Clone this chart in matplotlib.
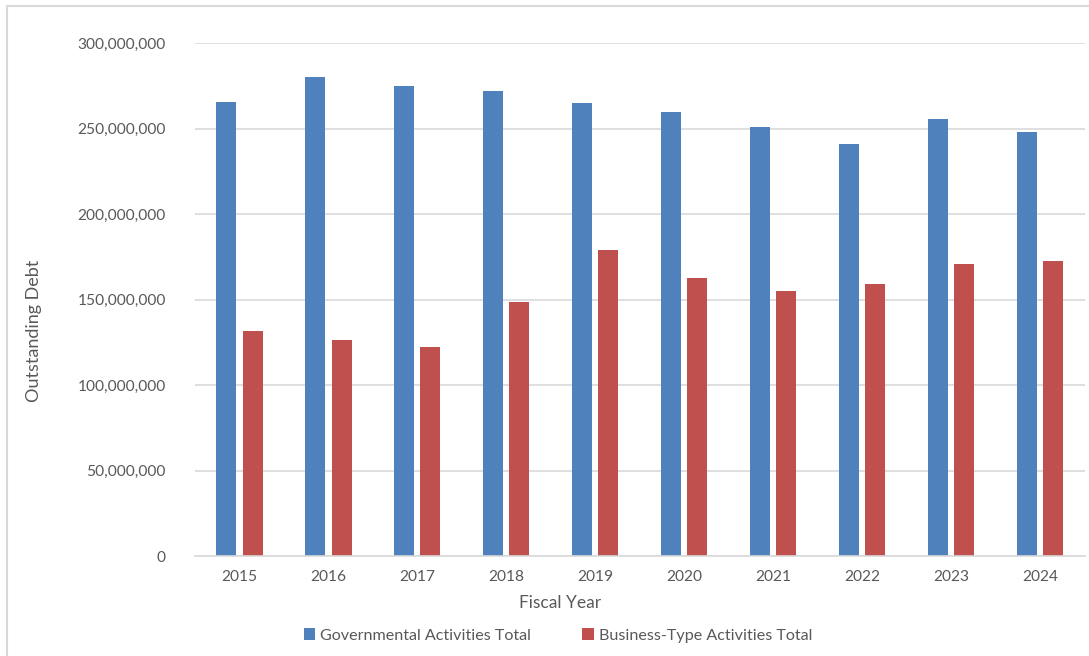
import matplotlib
matplotlib.use("Agg")
import matplotlib.pyplot as plt
import matplotlib.ticker as mticker
from matplotlib.patches import Rectangle
import numpy as np

years = ["2015", "2016", "2017", "2018", "2019", "2020", "2021", "2022", "2023", "2024"]
governmental = [265.6e6, 280.4e6, 275.1e6, 272.0e6, 265.0e6, 259.8e6, 250.8e6, 241.0e6, 255.8e6, 248.0e6]
business_type = [131.5e6, 126.6e6, 122.1e6, 148.7e6, 178.7e6, 162.3e6, 154.7e6, 158.8e6, 170.5e6, 172.6e6]

plt.rcParams["font.family"] = ["Lato", "DejaVu Sans"]
text_color = "#595959"
grid_color = "#D9D9D9"

fig = plt.figure(figsize=(10.89, 6.56), dpi=100)
ax = fig.add_axes([0.179, 0.1524, 0.817, 0.782])

x = np.arange(len(years))
width = 0.225
gap = 0.035
ax.bar(x - width / 2 - gap, governmental, width, color="#4F81BD",
       label="Governmental Activities Total")
ax.bar(x + width / 2 + gap, business_type, width, color="#C0504D",
       label="Business-Type Activities Total")

ax.set_xlim(-0.5, len(years) - 0.5)
ax.set_ylim(0, 300e6)
ax.yaxis.set_major_locator(mticker.MultipleLocator(50e6))
ax.yaxis.set_major_formatter(mticker.FuncFormatter(lambda v, _: f"{v:,.0f}"))
ax.set_xticks(x)
ax.set_xticklabels(years)

ax.grid(axis="y", color=grid_color, linewidth=1.2)
ax.set_axisbelow(True)
for side in ("top", "right", "left"):
    ax.spines[side].set_visible(False)
ax.spines["bottom"].set_color(grid_color)
ax.spines["bottom"].set_linewidth(1.2)
ax.tick_params(length=0, colors=text_color, labelsize=11.2)
ax.tick_params(axis="y", pad=21)
ax.tick_params(axis="x", pad=10)

ax.set_xlabel("Fiscal Year", color=text_color, fontsize=12.5, labelpad=9)
ax.xaxis.set_label_coords(0.41, -0.075)
ax.set_ylabel("Outstanding Debt", color=text_color, fontsize=13)
ax.yaxis.set_label_coords(-0.172, 0.4386)

ax.legend(loc="center", bbox_to_anchor=(0.408, -0.155), ncol=2, frameon=False,
          fontsize=11.6, labelcolor=text_color, handlelength=0.7, handleheight=0.7,
          handletextpad=0.3, columnspacing=3.2)

# light frame around the chart area
fig.patches.append(Rectangle((7 / 1089, -0.1), 1.2, 1 - 6 / 656 + 0.1,
                             transform=fig.transFigure, fill=False,
                             edgecolor=grid_color, linewidth=1.5))

fig.savefig("out.png", dpi=100)
plt.close(fig)
